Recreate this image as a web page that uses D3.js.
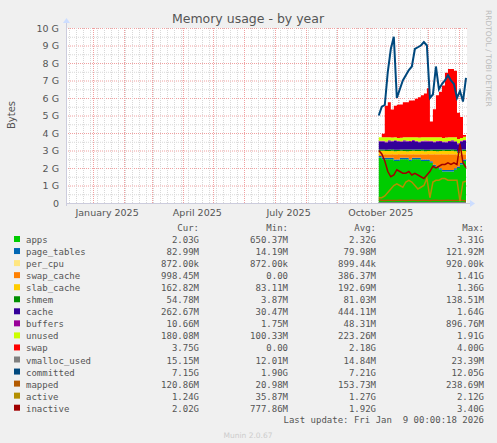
<!DOCTYPE html>
<html><head><meta charset="utf-8">
<script src="https://cdn.jsdelivr.net/npm/d3@7"></script>
<style>body{margin:0;background:#f0f0f0}svg{display:block}</style>
</head><body><svg id="c" width="497" height="443"></svg>
<script>
// sample days (offset from Oct 13 2025)
var days = d3.range(0, 90, 3);
// stacked areas, values in GB
var apps       = [2.6,2.5,2.5,2.5,2.5,2.4,2.4,2.5,2.5,2.5,2.4,2.5,2.5,2.5,2.4,2.4,2.4,2.3,2.1,2.0,1.9,1.8,1.8,1.8,1.8,1.9,2.0,2.2,2.4,2.03];
var pageTables = [0.08,0.08,0.08,0.08,0.08,0.08,0.08,0.08,0.08,0.08,0.08,0.08,0.08,0.08,0.08,0.08,0.08,0.08,0.08,0.08,0.08,0.08,0.08,0.08,0.08,0.08,0.08,0.08,0.08,0.08];
var perCpu     = [0.001,0.001,0.001,0.001,0.001,0.001,0.001,0.001,0.001,0.001,0.001,0.001,0.001,0.001,0.001,0.001,0.001,0.001,0.001,0.001,0.001,0.001,0.001,0.001,0.001,0.001,0.001,0.001,0.001,0.001];
var swapCache  = [0.1,0.2,0.2,0.2,0.2,0.3,0.3,0.2,0.2,0.2,0.3,0.2,0.2,0.2,0.3,0.3,0.3,0.4,0.6,0.7,0.8,0.9,0.9,0.9,0.9,0.8,0.6,0.5,0.3,0.97];
var slabCache  = [0.2,0.2,0.19,0.19,0.2,0.18,0.19,0.2,0.19,0.18,0.19,0.2,0.19,0.19,0.2,0.18,0.19,0.2,0.19,0.18,0.19,0.2,0.19,0.19,0.2,0.18,0.19,0.2,0.19,0.16];
var shmem      = [0.08,0.08,0.07,0.08,0.09,0.08,0.07,0.08,0.08,0.09,0.08,0.07,0.08,0.08,0.09,0.08,0.07,0.08,0.08,0.09,0.08,0.07,0.08,0.08,0.09,0.08,0.07,0.08,0.08,0.05];
var cache      = [0.45,0.45,0.42,0.48,0.44,0.5,0.46,0.42,0.48,0.46,0.44,0.5,0.45,0.42,0.44,0.48,0.46,0.44,0.42,0.45,0.44,0.42,0.41,0.44,0.46,0.44,0.42,0.44,0.5,0.26];
var buffers    = [0.05,0.05,0.05,0.05,0.05,0.05,0.05,0.05,0.05,0.05,0.05,0.05,0.05,0.05,0.05,0.05,0.05,0.05,0.05,0.05,0.05,0.05,0.05,0.05,0.05,0.05,0.05,0.05,0.05,0.01];
var unused     = [0.2,0.2,0.24,0.17,0.18,0.16,0.16,0.2,0.18,0.2,0.21,0.16,0.2,0.22,0.19,0.18,0.2,0.2,0.24,0.2,0.21,0.2,0.23,0.21,0.18,0.22,0.24,0.16,0.19,0.18];
var swap       = [0,0.2,1.8,2.0,1.6,1.8,1.9,1.9,2.0,2.0,2.1,2.1,2.2,2.3,2.4,2.5,2.8,0.9,1.6,2.4,2.6,3.0,3.7,3.9,3.9,3.8,1.5,1.2,0.1,3.75];
// lines
var vmallocUsed= [0.015,0.015,0.015,0.015,0.015,0.015,0.015,0.015,0.015,0.015,0.015,0.015,0.015,0.015,0.015,0.015,0.015,0.015,0.015,0.015,0.015,0.015,0.015,0.015,0.015,0.015,0.015,0.015,0.015,0.015];
var committed  = [5.0,5.5,5.6,7.5,8.8,9.5,6.0,6.5,7.0,7.3,7.6,7.8,8.8,8.9,9.0,9.2,9.0,6.0,6.2,7.8,6.5,6.8,7.0,7.3,7.0,6.8,6.0,6.4,5.8,7.15];
var mapped     = [0.18,0.15,0.14,0.16,0.15,0.14,0.15,0.16,0.15,0.14,0.15,0.16,0.15,0.14,0.15,0.16,0.15,0.14,0.15,0.16,0.15,0.14,0.15,0.16,0.15,0.14,0.15,0.16,0.15,0.12];
var active     = [0.3,0.3,0.4,0.6,0.8,1.0,1.1,1.0,0.9,1.2,1.3,1.2,1.0,0.8,0.9,1.0,1.4,0.3,1.2,1.3,1.3,1.4,1.4,1.3,1.3,1.3,1.3,0.1,1.2,1.24];
var inactive   = [3.0,2.8,2.4,1.8,1.5,1.6,1.9,1.8,1.7,1.7,1.8,1.6,1.7,1.6,1.5,1.4,1.6,1.8,2.1,2.0,2.1,2.2,2.2,2.3,2.2,2.3,2.2,3.4,2.3,2.02];

var yTicks = ['0','1 G','2 G','3 G','4 G','5 G','6 G','7 G','8 G','9 G','10 G'];
var monthLabels = ['January 2025','April 2025','July 2025','October 2025'];

var legendRows = [
 ['apps','#00cc00','2.03G','650.37M','2.32G','3.31G'],
 ['page_tables','#0066b3','82.99M','14.19M','79.98M','121.92M'],
 ['per_cpu','#ffe680','872.00k','872.00k','899.44k','920.00k'],
 ['swap_cache','#ff8000','998.45M','0.00','386.37M','1.41G'],
 ['slab_cache','#ffcc00','162.82M','83.11M','192.69M','1.36G'],
 ['shmem','#008f00','54.78M','3.87M','81.03M','138.51M'],
 ['cache','#330099','262.67M','30.47M','444.11M','1.64G'],
 ['buffers','#990099','10.66M','1.75M','48.31M','896.76M'],
 ['unused','#ccff00','180.08M','100.33M','223.26M','1.91G'],
 ['swap','#ff0000','3.75G','0.00','2.18G','4.00G'],
 ['vmalloc_used','#808080','15.15M','12.01M','14.84M','23.39M'],
 ['committed','#00487d','7.15G','1.90G','7.21G','12.05G'],
 ['mapped','#b35a00','120.86M','20.98M','153.73M','238.69M'],
 ['active','#b38f00','1.24G','35.87M','1.27G','2.12G'],
 ['inactive','#a00000','2.02G','777.86M','1.92G','3.40G']
];
var areaSeries = [apps,pageTables,perCpu,swapCache,slabCache,shmem,cache,buffers,unused,swap];
var lineSeries = [vmallocUsed,committed,mapped,active,inactive];

var svg = d3.select('#c');
var L = 66, R = 467, T = 28, B = 203;
var end = new Date(2026,0,9), start = d3.timeDay.offset(end,-400);
var x = d3.scaleTime().domain([start,end]).range([L,R]);
var y = d3.scaleLinear().domain([0,10]).range([B,T]);
var d0 = new Date(2025,9,13);
var dates = days.map(function(d){ return d3.timeDay.offset(d0,d); });

svg.append('rect').attr('x',L).attr('y',T).attr('width',R-L).attr('height',B-T).attr('fill','#fff');
// grid
d3.range(0,10.01,0.5).forEach(function(v){
  var major = v%1===0;
  svg.append('line').attr('x1',L).attr('x2',R).attr('y1',y(v)+0.5).attr('y2',y(v)+0.5)
    .attr('stroke',major?'#f0a0a0':'#d8d8d8').attr('stroke-dasharray','1,1');
});
d3.timeWeek.range(start,end).forEach(function(d){
  svg.append('line').attr('x1',Math.round(x(d))+0.5).attr('x2',Math.round(x(d))+0.5).attr('y1',T).attr('y2',B)
    .attr('stroke','#d8d8d8').attr('stroke-dasharray','1,1');
});
d3.timeMonth.range(start,end).forEach(function(d){
  svg.append('line').attr('x1',Math.round(x(d))+0.5).attr('x2',Math.round(x(d))+0.5).attr('y1',T).attr('y2',B)
    .attr('stroke','#f0a0a0').attr('stroke-dasharray','1,1');
});

// stacked areas
var base = dates.map(function(){ return 0; });
areaSeries.forEach(function(s,k){
  var lo = base.slice(), hi = base.map(function(b,i){ return b+s[i]; });
  svg.append('path').datum(dates).attr('fill',legendRows[k][1])
    .attr('d', d3.area().curve(d3.curveStepAfter).x(function(d){return x(d);})
      .y0(function(d,i){return y(lo[i]);}).y1(function(d,i){return y(hi[i]);}));
  base = hi;
});
lineSeries.forEach(function(s,k){
  svg.append('path').datum(s).attr('fill','none').attr('stroke',legendRows[10+k][1])
    .attr('stroke-width',k===1?2:1.5)
    .attr('d', d3.line().x(function(d,i){return x(dates[i]);}).y(function(d){return y(d);}));
});

// axes
svg.append('line').attr('x1',L).attr('x2',R+3).attr('y1',B+0.5).attr('y2',B+0.5).attr('stroke','#ccd');
svg.append('line').attr('x1',L+0.5).attr('x2',L+0.5).attr('y1',B+3).attr('y2',T-5).attr('stroke','#ccd');
svg.append('path').attr('d','M'+(R+3)+','+(B-3)+'L'+(R+8)+','+(B+0.5)+'L'+(R+3)+','+(B+4)+'Z').attr('fill','#ccddff');
svg.append('path').attr('d','M'+(L-3)+','+(T-5)+'L'+(L+0.5)+','+(T-10)+'L'+(L+4)+','+(T-5)+'Z').attr('fill','#ccddff');

var font = 'DejaVu Sans';
yTicks.forEach(function(t,i){
  svg.append('text').attr('x',L-7).attr('y',y(i)+3.5).attr('text-anchor','end')
    .attr('font-family',font).attr('font-size',9.5).attr('fill','#555').text(t);
});
var labelDates = [new Date(2025,0,15),new Date(2025,3,15),new Date(2025,6,15),new Date(2025,9,15)];
monthLabels.forEach(function(t,i){
  svg.append('text').attr('x',x(labelDates[i])).attr('y',216).attr('text-anchor','middle')
    .attr('font-family',font).attr('font-size',9.5).attr('fill','#555').text(t);
});
svg.append('text').attr('x',248).attr('y',23).attr('text-anchor','middle')
  .attr('font-family',font).attr('font-size',12.5).attr('fill','#555').text('Memory usage - by year');
svg.append('text').attr('transform','translate(15,115) rotate(-90)').attr('text-anchor','middle')
  .attr('font-family',font).attr('font-size',10).attr('fill','#555').text('Bytes');
svg.append('text').attr('transform','translate(486,10) rotate(90)').attr('text-anchor','start')
  .attr('font-family',font).attr('font-size',7.5).attr('fill','#bbb').text('RRDTOOL / TOBI OETIKER');

// legend
var mono = 'DejaVu Sans Mono', cols = [199,288,376,484];
['Cur:','Min:','Avg:','Max:'].forEach(function(h,i){
  svg.append('text').attr('x',cols[i]).attr('y',231).attr('text-anchor','end')
    .attr('font-family',mono).attr('font-size',9).attr('fill','#555').text(h);
});
legendRows.forEach(function(r,i){
  var yy = 243 + i*12.05;
  svg.append('rect').attr('x',14).attr('y',yy-7).attr('width',6).attr('height',6).attr('fill',r[1]);
  svg.append('text').attr('x',26).attr('y',yy).attr('font-family',mono).attr('font-size',9).attr('fill','#555').text(r[0]);
  for (var c=0;c<4;c++)
    svg.append('text').attr('x',cols[c]).attr('y',yy).attr('text-anchor','end')
      .attr('font-family',mono).attr('font-size',9).attr('fill','#555').text(r[2+c]);
});
svg.append('text').attr('x',484).attr('y',423).attr('text-anchor','end').attr('xml:space','preserve')
  .attr('font-family',mono).attr('font-size',9).attr('fill','#555').text('Last update: Fri Jan  9 00:00:18 2026');
svg.append('text').attr('x',248).attr('y',438).attr('text-anchor','middle')
  .attr('font-family',font).attr('font-size',7.5).attr('fill','#ccc').text('Munin 2.0.67');
</script></body></html>
